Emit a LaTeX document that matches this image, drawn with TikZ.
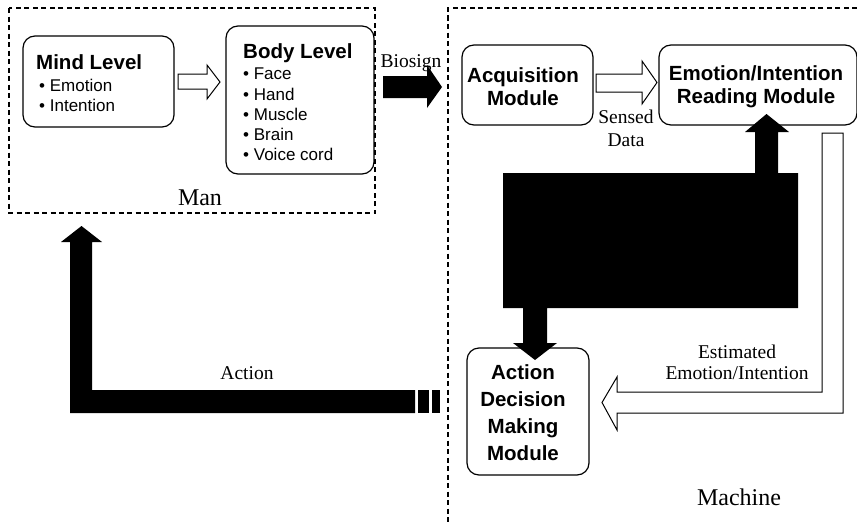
\documentclass[tikz,border=0pt]{standalone}
\usepackage{fontspec}
\setmainfont{Liberation Serif}
\setsansfont{Liberation Sans}
\begin{document}
\begin{tikzpicture}[x=1pt,y=-1pt,
  modbox/.style={draw, line width=1.2pt, rounded corners=12pt, inner sep=0pt, outer sep=0pt},
  groupline/.style={line width=1.1pt, dash pattern=on 5pt off 3.5pt},
  hollow/.style={draw, fill=white, line width=1pt, line join=miter},
  blackblock/.style={fill=black},
  title/.style={font=\sffamily\bfseries\fontsize{20.5}{23}\selectfont, inner sep=0pt},
  item/.style={font=\sffamily\fontsize{17}{20}\selectfont, inner sep=0pt, anchor=west},
  modtext/.style={font=\sffamily\bfseries\fontsize{20.5}{23}\selectfont, inner sep=0pt, align=center},
  tag/.style={font=\fontsize{19.5}{21}\selectfont, inner sep=0pt, align=center},
  group/.style={font=\fontsize{24}{26}\selectfont, inner sep=0pt}
]
\useasboundingbox (0,0) rectangle (857,522);

% group frames
\draw[groupline] (9,8) rectangle (375,213);
\draw[groupline] (857,8) -- (448,8) -- (448,522);
\node[group] (man) at (200,198) {Man};
\node[group] (machine) at (739,497) {Machine};

% man side
\node[modbox, minimum width=151pt, minimum height=91pt] (mind) at (98.5,81.5) {};
\node[title, anchor=west] (mindt) at (36,62) {Mind Level};
\node[item] (m1) at (39,85) {• Emotion};
\node[item] (m2) at (39,105) {• Intention};

\node[modbox, minimum width=148pt, minimum height=148pt] (body) at (300,100) {};
\node[title, anchor=west] (bodyt) at (243,53) {Body Level};
\node[item] (b1) at (243,74) {• Face};
\node[item] (b2) at (243,94) {• Hand};
\node[item] (b3) at (243,114) {• Muscle};
\node[item] (b4) at (243,134) {• Brain};
\node[item] (b5) at (243,154) {• Voice cord};

% mind -> body
\draw[hollow] (178,74) -- (207,74) -- (207,65) -- (220,82) -- (207,99) -- (207,89) -- (178,89) -- cycle;

% biosign
\fill[blackblock] (383,76) -- (427,76) -- (427,65) -- (442,87) -- (427,108) -- (427,98) -- (383,98) -- cycle;
\node[tag] (bio) at (411,63) {Biosign};

% machine side
\node[modbox, minimum width=131pt, minimum height=80pt] (acq) at (527.5,85) {};
\node[modtext] (acqt) at (523,86.5) {Acquisition\\Module};

\node[modbox, minimum width=198pt, minimum height=80pt] (eir) at (758,85) {};
\node[modtext] (eirt) at (756,86.5) {Emotion/Intention\\Reading Module};

\draw[hollow] (596,74) -- (642,74) -- (642,61) -- (657,82.5) -- (642,104) -- (642,92) -- (596,92) -- cycle;
\node[tag, font=\fontsize{19.5}{23}\selectfont] (sensed) at (626,128.5) {Sensed\\Data};

% black block with arrows to reading and decision modules
\fill[blackblock] (503,173) -- (755,173) -- (755,132) -- (745,132) -- (766.5,114) -- (789,132) -- (778,132) -- (778,173)
  -- (798,173) -- (798,308) -- (547,308) -- (547,343) -- (557,343) -- (535,360) -- (513,343) -- (523,343) -- (523,308)
  -- (503,308) -- cycle;

\node[modbox, minimum width=122pt, minimum height=127pt] (adm) at (528,411.5) {};
\node[modtext, font=\sffamily\bfseries\fontsize{20.5}{27}\selectfont] (admt) at (523,413) {Action\\Decision\\Making\\Module};

% estimated emotion/intention
\draw[hollow] (822,133) -- (843,133) -- (843,413) -- (617,413) -- (617,430) -- (602,402.5) -- (617,377) -- (617,392) -- (822,392) -- cycle;
\node[tag] (est) at (737,362.5) {Estimated\\Emotion/Intention};

% action back to man
\fill[blackblock] (415,390) -- (92,390) -- (92,242) -- (102,242) -- (81.5,226) -- (61,242) -- (70,242) -- (70,413) -- (415,413) -- cycle;
\fill[blackblock] (418,390) rectangle (429,413);
\fill[blackblock] (432,390) rectangle (440,413);
\node[tag] (act) at (247,373) {Action};
\end{tikzpicture}
\end{document}
